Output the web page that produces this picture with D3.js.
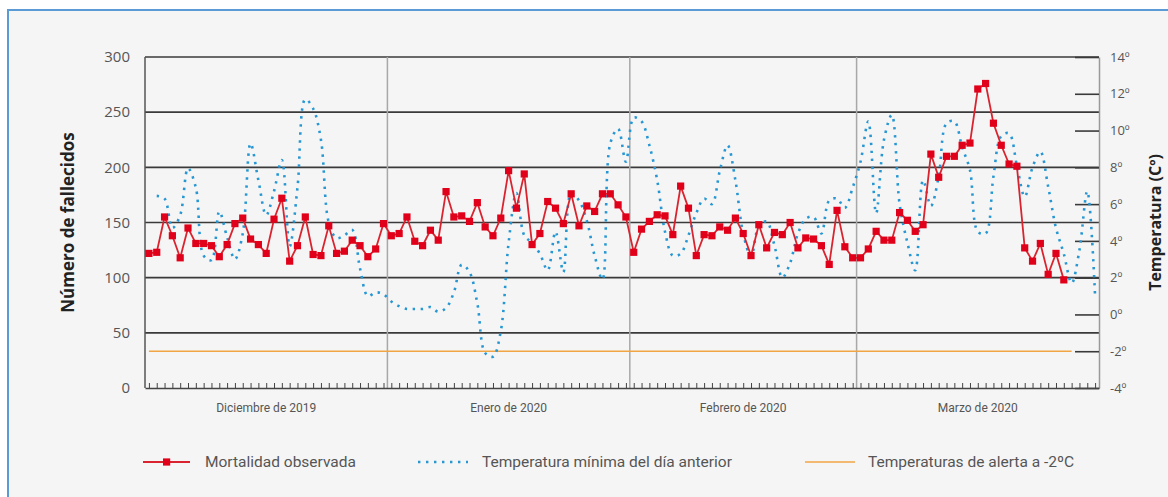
<!DOCTYPE html>
<html>
<head>
<meta charset="utf-8">
<script src="https://cdn.jsdelivr.net/npm/d3@7"></script>
<style>
  html, body { margin: 0; padding: 0; background: #fff; }
  svg { display: block; }
  text { font-family: "Open Sans", sans-serif; }
  .legend text, .month-label { font-family: Roboto, sans-serif; }
</style>
</head>
<body>
<svg id="chart" width="1168" height="497"></svg>
<script>
// daily values, 1 Dec 2019 onwards
const firstDay = '2019-12-01';
const months = ['Diciembre de 2019', 'Enero de 2020', 'Febrero de 2020', 'Marzo de 2020'];
const monthStarts = ['2019-12-01', '2020-01-01', '2020-02-01', '2020-03-01', '2020-04-01'];

// Mortalidad observada (1 Dec - 27 Mar)
const mortality = [
  122, 123, 155, 138, 118, 145, 131, 131, 129, 119,
  130, 149, 154, 135, 130, 122, 153, 172, 115, 129,
  155, 121, 120, 147, 122, 124, 134, 129, 119, 126,
  149, 138, 140, 155, 133, 129, 143, 134, 178, 155,
  156, 151, 168, 146, 138, 154, 197, 163, 194, 130,
  140, 169, 163, 149, 176, 147, 165, 160, 176, 176,
  166, 155, 123, 144, 151, 157, 156, 139, 183, 163,
  120, 139, 138, 146, 143, 154, 140, 120, 148, 127,
  141, 139, 150, 127, 136, 135, 129, 112, 161, 128,
  118, 118, 126, 142, 134, 134, 159, 152, 142, 148,
  212, 191, 210, 210, 220, 222, 271, 276, 240, 220,
  203, 201, 127, 115, 131, 103, 122, 98
];

// Temperatura mínima del día anterior (ºC), 1 Dec - 31 Mar
const minTemp = [
  null, 6.45, 6.3, 4.7, 5.4, 7.95, 6.9, 3.2, 2.95, 5.6,
  4.2, 3.0, 4.4, 9.3, 7.3, 5.4, 6.7, 8.4, 3.7, 6.9,
  11.7, 11.2, 9.5, 5.0, 4.15, 4.3, 4.6, 2.5, 1.0, 1.2,
  1.1, 0.7, 0.45, 0.3, 0.3, 0.3, 0.4, 0.15, 0.35, 1.2,
  2.7, 2.3, 0.6, -2.1, -2.3, -0.9, 3.9, 6.6, 4.3, 3.9,
  3.3, 2.4, 4.5, 2.3, 6.6, 6.2, 5.1, 3.2, 1.9, 9.3,
  10.1, 8.3, 10.7, 10.5, 9.2, 7.3, 4.5, 3.2, 3.3, 4.3,
  5.5, 6.3, 6.0, 7.8, 9.2, 7.3, 4.4, 3.15, 4.8, 5.05,
  3.75, 2.0, 2.8, 4.4, 5.2, 5.3, 4.4, 6.2, 6.3, 5.8,
  6.9, 8.3, 10.5, 5.5, 9.5, 10.85, 6.0, 3.9, 2.4, 7.3,
  5.9, 7.5, 10.4, 10.5, 9.1, 7.85, 4.5, 4.4, 7.5, 9.7,
  9.85, 8.1, 6.4, 8.0, 8.85, 6.95, 4.7, 3.3, 1.7, 3.5,
  6.7, 1.0
];

// Temperaturas de alerta
const alertTemp = -2;
const alertSpan = ['2019-12-01', '2020-03-28'];

const leftTicks = [0, 50, 100, 150, 200, 250, 300];
const rightTicks = [-4, -2, 0, 2, 4, 6, 8, 10, 12, 14];

const legendItems = ['Mortalidad observada', 'Temperatura mínima del día anterior', 'Temperaturas de alerta a -2ºC'];

const colors = {
  red: '#e1001a',
  redLine: '#d9242f',
  blue: '#2797d3',
  orange: '#f2a544',
  grid: '#3a3a3a',
  sep: '#a8a8a8',
  text: '#555'
};

const margin = { left: 145, right: 1099, top: 57, bottom: 388 };

const svg = d3.select('#chart');
const parse = d3.utcParse('%Y-%m-%d');
const day0 = parse(firstDay);
const mid = d => d3.utcHour.offset(d, 12);

const x = d3.scaleUtc()
  .domain([parse(monthStarts[0]), parse(monthStarts[monthStarts.length - 1])])
  .range([margin.left, margin.right]);
const yL = d3.scaleLinear().domain([0, 300]).range([margin.bottom, margin.top]);
const yR = d3.scaleLinear().domain([-4, 14]).range([margin.bottom, margin.top]);

const mortData = mortality.map((v, i) => ({ date: d3.utcDay.offset(day0, i), v }));
const tempData = minTemp.map((v, i) => ({ date: d3.utcDay.offset(day0, i), v }));
const allDays = d3.utcDay.range(parse(monthStarts[0]), parse(monthStarts[monthStarts.length - 1]));

// panel
svg.append('rect')
  .attr('x', 8).attr('y', 10)
  .attr('width', 1200).attr('height', 520)
  .attr('fill', '#f5f5f5')
  .attr('stroke', '#5b9bd5')
  .attr('stroke-width', 2);

// gridlines
svg.append('g').attr('class', 'grid')
  .selectAll('line')
  .data(leftTicks.filter(d => d > 0))
  .join('line')
  .attr('x1', margin.left).attr('x2', margin.right)
  .attr('y1', d => yL(d)).attr('y2', d => yL(d))
  .attr('stroke', colors.grid)
  .attr('stroke-width', 1.6);

// month separators
svg.append('g').attr('class', 'separators')
  .selectAll('line')
  .data(monthStarts.slice(1, -1).map(parse))
  .join('line')
  .attr('x1', d => x(d)).attr('x2', d => x(d))
  .attr('y1', margin.top).attr('y2', margin.bottom)
  .attr('stroke', colors.sep)
  .attr('stroke-width', 1.5);

// left axis line
svg.append('line')
  .attr('x1', margin.left).attr('x2', margin.left)
  .attr('y1', margin.top).attr('y2', margin.bottom)
  .attr('stroke', '#555').attr('stroke-width', 1.5);

// right axis
const rightAxis = svg.append('g')
  .attr('transform', `translate(${margin.right},0)`)
  .call(d3.axisRight(yR).tickValues(rightTicks).tickSizeInner(-24).tickSizeOuter(0).tickPadding(11).tickFormat(d => d + 'º'));
rightAxis.select('.domain').attr('stroke', '#9a9a9a').attr('stroke-width', 1.5);
rightAxis.selectAll('.tick line').attr('stroke', colors.grid).attr('stroke-width', 1.6);
rightAxis.selectAll('.tick text').attr('fill', colors.text).style('font-size', '13px');

// left axis labels
const leftAxis = svg.append('g')
  .attr('transform', `translate(${margin.left},0)`)
  .call(d3.axisLeft(yL).tickValues(leftTicks).tickSize(0).tickPadding(15));
leftAxis.select('.domain').remove();
leftAxis.selectAll('.tick text').attr('fill', colors.text).style('font-size', '15px');

// bottom axis with day ticks
const bottomAxis = svg.append('g')
  .attr('transform', `translate(0,${margin.bottom})`)
  .call(d3.axisBottom(x).tickValues(allDays.map(mid)).tickSizeInner(-5).tickSizeOuter(0).tickFormat(''));
bottomAxis.select('.domain').attr('stroke', '#444').attr('stroke-width', 1.5);
bottomAxis.selectAll('.tick line').attr('stroke', '#444').attr('stroke-width', 1);

// month labels
svg.append('g')
  .selectAll('text')
  .data(months)
  .join('text')
  .attr('class', 'month-label')
  .attr('x', (d, i) => x(new Date((parse(monthStarts[i]).getTime() + parse(monthStarts[i + 1]).getTime()) / 2)))
  .attr('y', 412)
  .attr('text-anchor', 'middle')
  .attr('fill', colors.text)
  .style('font-size', '12px')
  .text(d => d);

// alert line
svg.append('line')
  .attr('x1', x(mid(parse(alertSpan[0])))).attr('x2', x(mid(parse(alertSpan[1]))))
  .attr('y1', yR(alertTemp)).attr('y2', yR(alertTemp))
  .attr('stroke', colors.orange)
  .attr('stroke-width', 1.6);

// temperature line
const tempLine = d3.line()
  .defined(d => d.v != null)
  .x(d => x(mid(d.date)))
  .y(d => yR(d.v))
  .curve(d3.curveCatmullRom);

svg.append('path')
  .datum(tempData)
  .attr('d', tempLine)
  .attr('fill', 'none')
  .attr('stroke', colors.blue)
  .attr('stroke-width', 2.6)
  .attr('stroke-dasharray', '2.4 5.6');

// mortality line + markers
const mortLine = d3.line()
  .x(d => x(mid(d.date)))
  .y(d => yL(d.v));

svg.append('path')
  .datum(mortData)
  .attr('d', mortLine)
  .attr('fill', 'none')
  .attr('stroke', colors.redLine)
  .attr('stroke-width', 1.8);

svg.append('g')
  .selectAll('rect')
  .data(mortData)
  .join('rect')
  .attr('x', d => x(mid(d.date)) - 3.6)
  .attr('y', d => yL(d.v) - 3.6)
  .attr('width', 7.2).attr('height', 7.2)
  .attr('fill', colors.red);

// axis titles
svg.append('text')
  .attr('transform', `translate(74,${(margin.top + margin.bottom) / 2}) rotate(-90)`)
  .attr('text-anchor', 'middle')
  .attr('fill', '#222')
  .style('font-size', '17px')
  .style('font-weight', 'bold')
  .text('Número de fallecidos');

svg.append('text')
  .attr('transform', `translate(1161,${(margin.top + margin.bottom) / 2}) rotate(-90)`)
  .attr('text-anchor', 'middle')
  .attr('fill', '#222')
  .style('font-size', '16px')
  .style('font-weight', 'bold')
  .text('Temperatura (Cº)');

// legend
const legend = svg.append('g').attr('class', 'legend').attr('transform', 'translate(0,462)');
const legendX = [143, 418, 805];

legend.append('line')
  .attr('x1', legendX[0]).attr('x2', legendX[0] + 47)
  .attr('stroke', colors.redLine).attr('stroke-width', 1.8);
legend.append('rect')
  .attr('x', legendX[0] + 20).attr('y', -3.6)
  .attr('width', 7.2).attr('height', 7.2)
  .attr('fill', colors.red);

legend.append('line')
  .attr('x1', legendX[1]).attr('x2', legendX[1] + 50)
  .attr('stroke', colors.blue).attr('stroke-width', 2.6)
  .attr('stroke-dasharray', '2.4 5.6');

legend.append('line')
  .attr('x1', legendX[2]).attr('x2', legendX[2] + 50)
  .attr('stroke', colors.orange).attr('stroke-width', 1.6);

legend.selectAll('text.item')
  .data(legendItems)
  .join('text')
  .attr('class', 'item')
  .attr('x', (d, i) => legendX[i] + [62, 64, 63][i])
  .attr('dy', '0.35em')
  .attr('fill', colors.text)
  .style('font-size', '15.5px')
  .text(d => d);
</script>
</body>
</html>
